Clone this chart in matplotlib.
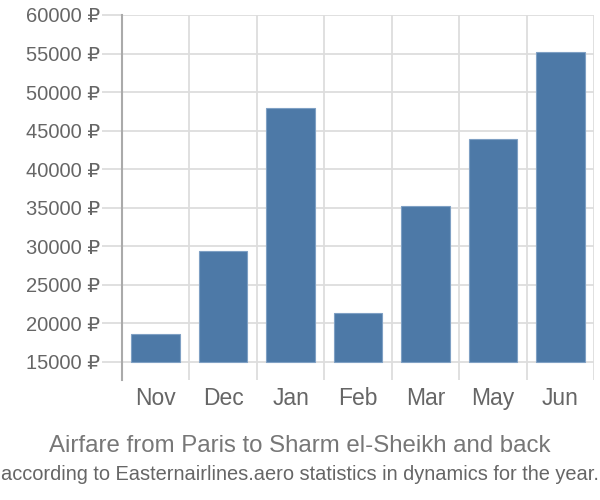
import matplotlib
matplotlib.use("Agg")
import matplotlib.pyplot as plt
from matplotlib import font_manager

months = ["Nov", "Dec", "Jan", "Feb", "Mar", "May", "Jun"]
prices = [18600, 29400, 48000, 21400, 35200, 43900, 55200]
yticks = [15000, 20000, 25000, 30000, 35000, 40000, 45000, 50000, 55000, 60000]
title = "Airfare from Paris to Sharm el-Sheikh and back"
subtitle = "according to Easternairlines.aero statistics in dynamics for the year."

plt.rcParams['font.family'] = ['Liberation Sans', 'DejaVu Sans']

names = {f.name for f in font_manager.fontManager.ttflist}
narrow = 'Liberation Sans Narrow' if 'Liberation Sans Narrow' in names else None

fig = plt.figure(figsize=(6, 5), dpi=100)
ax = fig.add_axes([122/600, 1-380/500, (594-122)/600, (380-15)/500])

base = 15000
n = len(months)
ax.set_xlim(-0.5, n - 0.5)
ax.set_ylim(12660, 60000)

for y in yticks:
    ax.axhline(y, color='#dddddd', lw=1.3, zorder=0)
for i in range(n + 1):
    ax.axvline(i - 0.5, color='#dddddd', lw=1.3, zorder=0)

ax.bar(range(n), [p - base for p in prices], bottom=base, width=0.72,
       color='#4d79a7', edgecolor='#7fa0c4', linewidth=0.8, zorder=2)

for s in ['top', 'right', 'bottom']:
    ax.spines[s].set_visible(False)
ax.spines['left'].set_color('#aaaaaa')
ax.spines['left'].set_linewidth(1.5)

ax.set_yticks(yticks)
ax.set_yticklabels([f"{v} ₽" for v in yticks])
ax.tick_params(axis='y', length=14.4, color='#dddddd', width=1.3, pad=1.5,
               labelsize=14.5, labelcolor='#666666')
ax.set_xticks(range(n))
ax.set_xticklabels(months)
ax.tick_params(axis='x', length=0, pad=5, labelsize=16.5, labelcolor='#666666')

fig.text(0.5, 1-446/500, title, ha='center', va='center', fontsize=17.3, color='#777777')
if narrow:
    fig.text(0.5, 1-475/500, subtitle, ha='center', va='center', fontsize=17.0,
             color='#666666', family=[narrow, 'DejaVu Sans'], fontweight='normal')
else:
    fig.text(0.5, 1-475/500, subtitle, ha='center', va='center', fontsize=14.4,
             color='#666666')

fig.savefig("out.png", dpi=100)
